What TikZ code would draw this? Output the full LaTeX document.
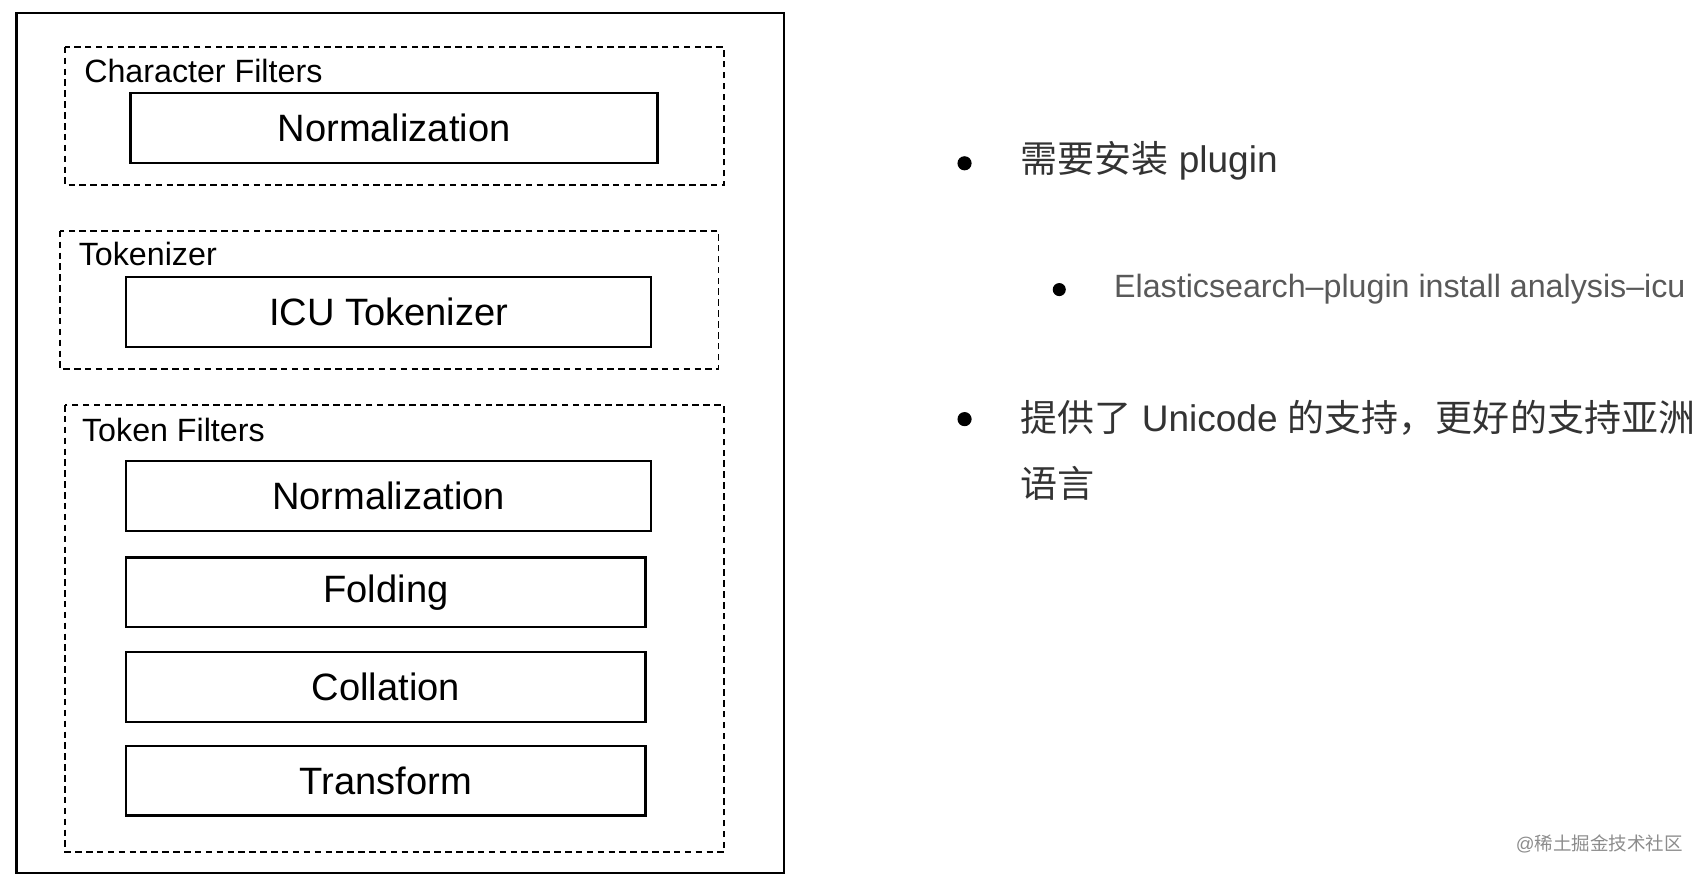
\documentclass[tikz,border=0pt]{standalone}
\usepackage{fontspec}
\setmainfont{Liberation Sans}
\newfontfamily\cjk{Noto Sans CJK SC}
\begin{document}
\begin{tikzpicture}[x=0.5pt,y=-0.5pt,
  solidbox/.style={draw,line width=1.2pt},
  dashbox/.style={draw,line width=0.9pt,dash pattern=on 3pt off 2pt},
  inner/.style={draw,line width=1.1pt,minimum height=32pt,inner sep=0pt,font=\fontsize{17.5}{20}\selectfont},
  lab/.style={anchor=west,inner sep=0pt,font=\fontsize{14.8}{17}\selectfont},
  txt/.style={anchor=west,inner sep=0pt,font=\fontsize{17}{20}\selectfont,text=black!80},
  dot/.style={circle,fill=black,inner sep=0pt,minimum size=6.5pt}]
\useasboundingbox (0,0) rectangle (1568,806.5);
\draw[solidbox] (15,12) rectangle (720,802);
\draw[dashbox] (60,43) rectangle (665,170);
\draw[dashbox] (55,212) rectangle (660,339);
\draw[dashbox] (60,372) rectangle (665,783);
\node[lab] (l1) at (77,65) {Character Filters};
\node[lab] (l2) at (72,233) {Tokenizer};
\node[lab] (l3) at (75,395) {Token Filters};
\node[inner,minimum width=242pt] (n1) at (362,117.5) {Normalization};
\node[inner,minimum width=241pt] (t1) at (357,286.5) {ICU Tokenizer};
\node[inner,minimum width=241pt] (n2) at (357,455.5) {Normalization};
\node[inner,minimum width=238.5pt] (f) at (354.5,544) {Folding};
\node[inner,minimum width=238.5pt] (c) at (354.5,631) {Collation};
\node[inner,minimum width=238.5pt] (tr) at (354.5,717) {Transform};
\node[dot] (d1) at (886,150) {};
\node[txt] (b1) at (937,148) {{\cjk 需要安装} plugin};
\node[dot,minimum size=6pt] (d2) at (973,266) {};
\node[anchor=west,inner sep=0pt,font=\fontsize{14.8}{17}\selectfont,text=black!65] (b2) at (1023,266) {Elasticsearch–plugin install analysis–icu};
\node[dot] (d3) at (886,385) {};
\node[txt] (b3) at (937,384) {{\cjk 提供了} Unicode {\cjk 的支持，更好的支持亚洲}};
\node[txt] (b4) at (937,444) {\cjk 语言};
\node[anchor=east,inner sep=0pt,font=\fontsize{8.5}{10}\selectfont,text=black!45] (w) at (1546,775) {@\cjk 稀土掘金技术社区};
\end{tikzpicture}
\end{document}
